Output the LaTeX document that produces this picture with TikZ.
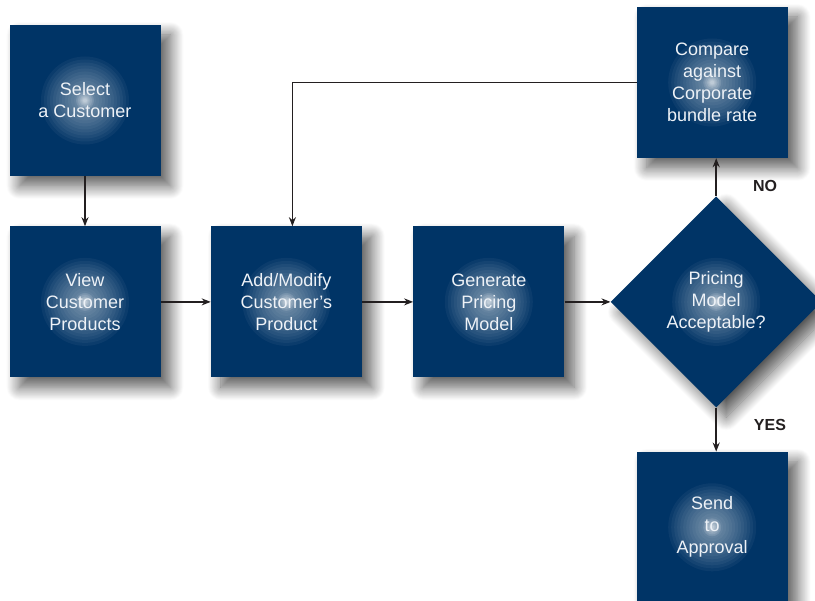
\documentclass[tikz,border=0pt]{standalone}
\usepackage{fontspec}
\setmainfont{Liberation Sans}
\usepackage{xcolor}
\usepackage{tikz}
\usetikzlibrary{positioning,shapes.geometric,arrows.meta,shadows.blur}
\definecolor{boxnavy}{HTML}{003466}
\definecolor{linedark}{HTML}{231F20}
\definecolor{textlight}{HTML}{EEF2F7}

\begin{document}
\begin{tikzpicture}[
  x=1pt, y=1pt,
  stepbox/.style={
    rectangle, fill=boxnavy,
    minimum width=151pt, minimum height=151pt, inner sep=0pt,
    align=center, text=textlight, font=\fontsize{18}{22}\selectfont,
    blur shadow={shadow xshift=10pt, shadow yshift=-10pt, shadow blur radius=13pt,
      shadow blur steps=16, shadow opacity=65},
    path picture={%
      \begin{pgfscope}
        \pgfsetfillcolor{white}\pgfsetfillopacity{0.045}%
        \foreach \r in {44,41,...,2}{%
          \pgfpathcircle{\pgfpointanchor{path picture bounding box}{center}}{\r pt}%
          \pgfusepath{fill}}%
        \pgfsetfillopacity{0.12}%
        \foreach \r in {9,7,5.5,4,3,2}{%
          \pgfpathcircle{\pgfpointanchor{path picture bounding box}{center}}{\r pt}%
          \pgfusepath{fill}}%
      \end{pgfscope}},
  },
  decision/.style={stepbox, diamond, minimum width=211pt, minimum height=211pt},
  flow/.style={draw=linedark, line width=1.8pt, -{Stealth[length=9pt,width=7pt]}},
  answer/.style={font=\fontsize{16}{19}\selectfont\bfseries, text=linedark},
]

\useasboundingbox (0,0) rectangle (815,-601);
\clip (0,0) rectangle (815,-601);

\node[stepbox] (select) at (85,-100.5) {Select\\a Customer};
\node[stepbox, below=50pt of select] (view) {View\\Customer\\Products};
\node[stepbox, right=50pt of view] (addmod) {Add/Modify\\Customer’s\\Product};
\node[stepbox, right=51pt of addmod] (generate) {Generate\\Pricing\\Model};
\node[decision, right=46pt of generate] (accept) {Pricing\\Model\\Acceptable?};
\node[stepbox, above=38pt of accept, xshift=-4pt] (compare) {Compare\\against\\Corporate\\bundle rate};
\node[stepbox, below=44pt of accept, xshift=-4pt] (approval) {Send\\to\\Approval};

\draw[flow] (select) -- (view);
\draw[flow] (view) -- (addmod);
\draw[flow] (addmod) -- (generate);
\draw[flow] (generate) -- (accept);
\draw[flow] (accept.north) -- (accept.north |- compare.south);
\draw[flow] (accept.south) -- (accept.south |- approval.north);
\draw[flow] (compare.west) -| ([xshift=6pt]addmod.north);

\node[answer] (no) at (765,-186) {NO};
\node[answer] (yes) at (770,-425) {YES};

\end{tikzpicture}
\end{document}
